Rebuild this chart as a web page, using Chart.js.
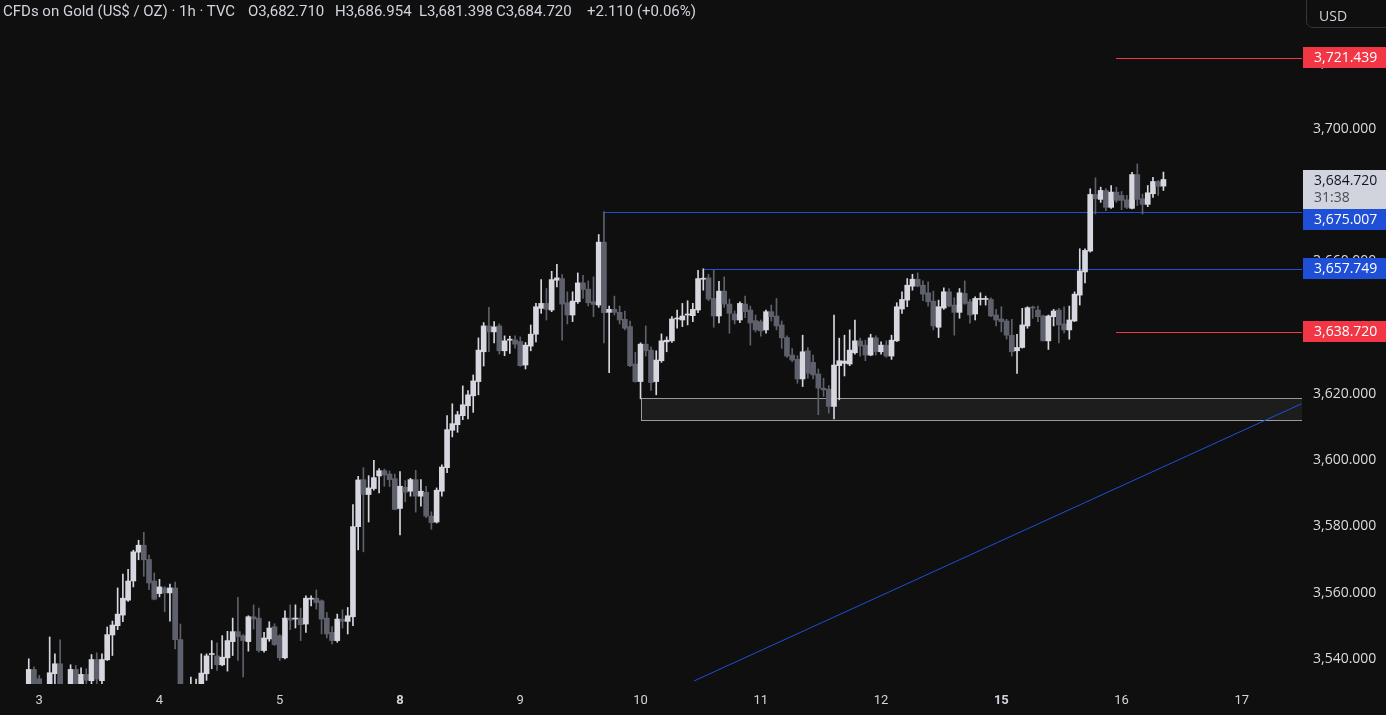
<!doctype html>
<html lang="en">
<head>
  <meta charset="utf-8">
  <title>CFDs on Gold (US$ / OZ) 1h</title>
  <style>
    html, body { margin: 0; padding: 0; background: #0f0f0f; overflow: hidden; }
    #wrap { position: relative; width: 1386px; height: 715px; }
    #chart { position: absolute; left: 0; top: 0; }
    .hdr { position: absolute; top: 2px; font: 15px Roboto, sans-serif; color: #d1d4dc; white-space: pre; }
    #usd { position: absolute; left: 1306px; top: -8px; width: 90px; height: 36px; box-sizing: border-box;
           border: 1px solid #34363d; border-radius: 7px; }
    #usd span { position: absolute; left: 12px; top: 13px; font: 14px "Open Sans", sans-serif; color: #d1d4dc; }
  </style>
</head>
<body>
<div id="wrap">
  <canvas id="chart" width="1386" height="715"></canvas>
  <div class="hdr" id="title" style="left:3px"></div>
  <div class="hdr" id="hO" style="left:248px"></div>
  <div class="hdr" id="hH" style="left:335px"></div>
  <div class="hdr" id="hL" style="left:419px"></div>
  <div class="hdr" id="hC" style="left:496px"></div>
  <div class="hdr" id="hChg" style="left:587px"></div>
  <div id="usd"><span>USD</span></div>
</div>

<script src="https://cdn.jsdelivr.net/npm/chart.js@4.4.1/dist/chart.umd.min.js"></script>
<script>
  // hourly candles, [open, high, low, close]; null = bar below the visible range
  const sep02 = [null, null, null, null, null,
    [3530, 3540.0, 3529, 3536.8], [3536.8, 3537.6, 3529, 3531]];
  const sep03 = [
    [3534.0, 3535.0, 3531, 3532.5], null, [3531, 3546.6, 3530, 3535.8], [3535.5, 3541.5, 3531, 3538.5],
    [3538.5, 3545.7, 3530, 3531], null, [3531, 3538.2, 3530, 3536.8], [3536.8, 3538.0, 3530, 3531],
    [3531, 3537.3, 3530, 3535.3], [3535.3, 3537.0, 3531, 3533.5], [3533.4, 3541.3, 3531, 3539.8],
    [3539.8, 3541.8, 3532, 3533.9], [3533.4, 3541.5, 3531, 3539.8], [3539.7, 3549.6, 3539.5, 3547.3],
    [3547.2, 3551.4, 3541.0, 3550.2], [3550.0, 3561.4, 3548.8, 3553.5], [3553.2, 3565.6, 3551.2, 3558.3],
    [3557.7, 3567.0, 3557.3, 3563.5], [3563.5, 3572.8, 3561.7, 3572.3], [3572.2, 3575.8, 3569.9, 3574.3],
    [3574.3, 3578.2, 3564.9, 3569.9], [3570.0, 3571.3, 3560.9, 3562.9], [3563.5, 3565.9, 3557.8, 3558.0]];
  const sep04 = [
    [3559.7, 3564.0, 3558.7, 3561.7], [3561.4, 3561.8, 3554.2, 3559.9], [3559.9, 3562.6, 3551.4, 3561.4],
    [3561.4, 3563.2, 3543.0, 3545.8], [3545.8, 3550.5, 3530, 3531], null, [3531, 3534.5, 3530, 3532],
    [3531, 3533.9, 3530, 3532], [3531, 3541.5, 3530, 3535.7], [3535.5, 3541.5, 3533.5, 3540.9],
    [3541.3, 3545.5, 3537.0, 3541.3], [3540.9, 3544.8, 3536.5, 3538.2], [3538.2, 3547.0, 3537.9, 3540.5],
    [3540.3, 3548.3, 3536.3, 3545.5], [3545.2, 3552.3, 3541.0, 3548.2], [3548.2, 3558.6, 3539.5, 3546.7],
    [3547.0, 3547.3, 3534.5, 3545.5], [3545.2, 3553.0, 3542.3, 3552.7], [3552.7, 3556.3, 3549.0, 3552.0],
    [3552.3, 3555.3, 3542.0, 3542.5], [3542.5, 3548.0, 3542.0, 3546.3], [3546.0, 3551.2, 3545.3, 3549.3],
    [3549.7, 3550.6, 3544.0, 3544.3]];
  const sep05 = [
    [3547.0, 3547.3, 3539.5, 3540.3], [3540.3, 3554.5, 3540.0, 3552.3], [3552.3, 3556.3, 3548.8, 3551.7],
    [3552.0, 3556.3, 3549.3, 3552.0], [3552.3, 3555.3, 3545.5, 3550.3], [3550.5, 3559.0, 3548.0, 3558.3],
    [3558.0, 3559.0, 3556.0, 3558.3], [3558.3, 3560.8, 3555.0, 3557.0], [3557.5, 3557.8, 3547.5, 3552.0],
    [3552.3, 3554.0, 3546.3, 3547.5], [3548.0, 3549.7, 3544.5, 3545.5], [3545.5, 3553.5, 3545.0, 3552.0],
    [3552.0, 3554.8, 3549.3, 3551.3], [3551.3, 3555.5, 3547.5, 3553.0], [3552.7, 3586.6, 3550.0, 3579.9],
    [3579.9, 3595.1, 3572.9, 3594.0], [3594.1, 3597.7, 3572.3, 3589.6], [3589.6, 3595.3, 3581.3, 3591.6],
    [3591.4, 3599.9, 3590.9, 3594.7], [3595.2, 3597.4, 3590.1, 3596.8], [3596.8, 3597.3, 3592.1, 3595.5],
    [3595.8, 3596.7, 3592.0, 3594.1], [3594.4, 3595.8, 3585.0, 3585.1]];
  const sep08 = [
    [3585.4, 3596.5, 3577.4, 3592.1], [3591.8, 3593.8, 3587.4, 3590.3], [3590.6, 3594.5, 3589.1, 3594.1],
    [3594.1, 3596.9, 3584.3, 3589.1], [3589.1, 3594.1, 3586.1, 3590.6], [3590.3, 3592.1, 3582.6, 3583.1],
    [3583.1, 3584.4, 3579.1, 3581.1], [3581.3, 3591.6, 3581.0, 3590.9], [3590.6, 3598.6, 3589.1, 3597.9],
    [3597.7, 3613.4, 3596.2, 3609.2], [3609.0, 3617.0, 3607.0, 3611.0], [3610.7, 3614.7, 3608.4, 3613.7],
    [3613.4, 3622.4, 3612.2, 3616.7], [3616.4, 3621.0, 3612.4, 3619.7], [3619.4, 3625.7, 3614.4, 3623.9],
    [3623.7, 3636.9, 3619.7, 3633.2], [3632.7, 3641.5, 3628.4, 3640.5], [3640.5, 3646.1, 3632.7, 3638.7],
    [3638.7, 3641.8, 3635.4, 3640.2], [3640.5, 3641.1, 3632.0, 3633.0], [3633.0, 3637.5, 3631.5, 3636.0],
    [3636.2, 3637.4, 3632.2, 3636.2], [3636.3, 3637.5, 3633.8, 3635.0]];
  const sep09 = [
    [3635.8, 3637.2, 3628.3, 3628.5], [3628.7, 3635.5, 3627.5, 3634.7], [3634.4, 3640.8, 3633.0, 3638.0],
    [3638.0, 3647.3, 3635.7, 3646.3], [3645.8, 3654.5, 3644.3, 3647.3], [3647.3, 3651.8, 3642.3, 3645.5],
    [3645.3, 3657.0, 3644.8, 3654.5], [3654.3, 3659.1, 3652.3, 3655.0], [3654.8, 3656.0, 3636.2, 3647.1],
    [3647.5, 3650.8, 3641.1, 3643.8], [3643.8, 3650.8, 3641.8, 3648.0], [3647.8, 3656.5, 3647.3, 3653.5],
    [3653.5, 3655.8, 3648.8, 3651.5], [3651.6, 3654.1, 3646.5, 3647.5], [3647.8, 3655.3, 3643.3, 3647.0],
    [3646.8, 3668.1, 3646.1, 3665.8], [3665.8, 3675.007, 3635.4, 3644.5], [3644.6, 3646.5, 3626.4, 3645.5],
    [3645.5, 3649.5, 3643.8, 3644.6], [3644.6, 3646.5, 3641.1, 3642.3], [3642.5, 3645.0, 3639.3, 3639.8],
    [3640.3, 3642.0, 3628.2, 3628.5], [3629.0, 3632.5, 3623.5, 3623.7]];
  const sep10 = [
    [3623.7, 3635.4, 3618.5, 3635.0], [3635.0, 3640.5, 3631.4, 3633.0], [3633.2, 3634.2, 3621.0, 3623.4],
    [3623.7, 3633.0, 3619.7, 3630.2], [3630.0, 3638.1, 3629.5, 3636.0], [3635.7, 3637.2, 3632.7, 3636.2],
    [3636.0, 3643.3, 3635.5, 3642.6], [3642.6, 3645.3, 3639.8, 3642.6], [3642.3, 3647.3, 3640.3, 3643.5],
    [3643.8, 3648.1, 3640.8, 3643.8], [3643.6, 3647.3, 3641.8, 3645.5], [3645.3, 3657.3, 3644.5, 3654.8],
    [3654.6, 3657.749, 3651.3, 3654.8], [3655.0, 3656.1, 3648.1, 3648.6], [3648.8, 3657.3, 3640.1, 3643.5],
    [3643.5, 3654.0, 3641.4, 3651.0], [3651.0, 3655.3, 3646.1, 3647.1], [3647.1, 3648.6, 3638.3, 3644.3],
    [3644.1, 3645.0, 3641.1, 3642.3], [3642.3, 3647.8, 3641.5, 3647.3], [3647.1, 3649.5, 3643.0, 3644.8],
    [3645.3, 3646.5, 3634.7, 3641.4], [3642.1, 3643.8, 3638.7, 3639.3]];
  const sep11 = [
    [3641.8, 3642.3, 3637.4, 3639.0], [3639.3, 3645.3, 3638.3, 3644.8], [3644.8, 3646.8, 3642.0, 3643.3],
    [3643.5, 3648.8, 3639.3, 3640.5], [3640.8, 3642.0, 3633.7, 3636.9], [3637.0, 3637.5, 3631.0, 3631.4],
    [3631.7, 3633.7, 3629.7, 3630.2], [3630.4, 3631.5, 3623.2, 3624.5], [3624.5, 3637.7, 3622.2, 3632.7],
    [3633.0, 3634.0, 3624.7, 3626.2], [3629.5, 3631.7, 3624.5, 3625.7], [3626.0, 3627.5, 3613.7, 3621.7],
    [3621.7, 3624.7, 3619.2, 3621.2], [3621.4, 3622.5, 3614.2, 3616.2], [3616.2, 3643.8, 3612.4, 3628.7],
    [3628.5, 3636.8, 3618.2, 3630.0], [3629.2, 3637.7, 3625.4, 3629.9], [3629.0, 3639.3, 3628.5, 3633.2],
    [3632.4, 3642.3, 3632.0, 3636.0], [3636.0, 3636.8, 3631.4, 3634.4], [3634.7, 3636.2, 3630.0, 3631.7],
    [3631.7, 3638.0, 3631.5, 3636.9], [3636.9, 3637.5, 3631.7, 3632.7]];
  const sep12 = [
    [3632.7, 3635.7, 3632.0, 3634.7], [3634.7, 3636.0, 3631.0, 3631.4], [3631.4, 3637.7, 3630.4, 3636.2],
    [3636.0, 3647.5, 3635.8, 3646.3], [3645.6, 3650.8, 3644.3, 3648.5], [3648.3, 3654.8, 3646.3, 3652.8],
    [3652.5, 3656.1, 3651.3, 3654.6], [3654.6, 3656.5, 3652.3, 3652.5], [3652.8, 3654.1, 3648.1, 3650.1],
    [3650.5, 3653.8, 3646.5, 3647.8], [3648.0, 3651.0, 3639.3, 3640.5], [3640.1, 3648.3, 3637.0, 3646.3],
    [3645.9, 3652.0, 3645.5, 3650.8], [3650.8, 3651.8, 3646.3, 3646.5], [3646.8, 3649.0, 3637.7, 3644.6],
    [3644.6, 3651.8, 3642.8, 3650.5], [3650.3, 3654.1, 3647.0, 3647.3], [3647.8, 3648.5, 3641.3, 3643.8],
    [3644.1, 3649.3, 3642.3, 3648.8], [3648.5, 3650.5, 3646.8, 3648.5], [3648.5, 3649.5, 3646.8, 3648.5],
    [3648.5, 3649.0, 3643.3, 3643.5], [3643.8, 3645.5, 3640.5, 3642.3]];
  const sep15 = [
    [3642.6, 3646.3, 3638.7, 3641.8], [3642.0, 3642.5, 3636.5, 3637.7], [3637.7, 3642.5, 3631.4, 3632.7],
    [3633.0, 3638.0, 3626.2, 3634.0], [3634.0, 3645.8, 3633.8, 3640.8], [3640.5, 3646.3, 3639.8, 3646.0],
    [3646.2, 3646.5, 3642.8, 3645.9], [3645.3, 3646.5, 3641.8, 3643.3], [3643.5, 3643.8, 3636.0, 3636.0],
    [3636.0, 3643.8, 3633.4, 3643.5], [3643.3, 3645.5, 3640.5, 3645.0], [3645.3, 3645.8, 3635.4, 3640.8],
    [3641.1, 3646.3, 3638.4, 3639.3], [3639.3, 3646.5, 3636.5, 3642.3], [3642.0, 3650.8, 3641.8, 3650.1],
    [3649.8, 3663.8, 3646.8, 3657.1], [3656.8, 3663.8, 3653.5, 3663.3], [3663.1, 3681.9, 3662.8, 3680.2],
    [3680.2, 3685.2, 3674.3, 3678.9], [3678.7, 3682.4, 3677.8, 3681.4], [3681.4, 3682.0, 3675.3, 3676.3],
    [3676.3, 3682.9, 3676.0, 3680.9], [3680.9, 3682.4, 3677.8, 3678.4]];
  const sep16 = [
    [3679.9, 3681.1, 3675.6, 3678.4], [3678.6, 3679.9, 3675.9, 3676.3], [3676.0, 3686.9, 3675.8, 3686.2],
    [3686.2, 3689.4, 3676.8, 3678.7], [3678.9, 3680.3, 3674.3, 3677.2], [3677.2, 3682.9, 3676.5, 3680.7],
    [3680.4, 3685.4, 3679.3, 3684.1], [3684.1, 3684.4, 3679.9, 3682.61], [3682.71, 3686.954, 3681.398, 3684.72]];

  const dayLabels = ['3', '4', '5', '8', '9', '10', '11', '12', '15', '16', '17'];
  const weekStarts = ['8', '15'];
  const barsPerDay = 23;
  const leadSlots = 7;      // bars shown before the first day label
  const slotCount = 249;    // visible bar slots incl. empty space on the right
  const yTicks = [3540, 3560, 3580, 3600, 3620, 3640, 3660, 3680, 3700, 3720];
  const yMin = 3532.4, yMax = 3738.9;

  // drawings: horizontal rays (price, starting bar), support zone, trend line
  const redLevels = [3721.439, 3638.72];
  const redFrom = 206;
  const blueLevels = [3675.007, 3657.749];
  const blueFrom = [108, 127];
  const zone = [3612.1, 3618.7];
  const zoneFrom = 115;
  const trendA = [125.2, 3533.3];
  const trendB = [241.4, 3617.0];
  const countdown = '31:38';

  const up = '#d6d7df', down = '#5e606b';
  const red = '#f23645', blue = '#1f4fd6';
  const font = 'Roboto, sans-serif';
  const axisFont = '"Open Sans", sans-serif';

  const candles = [].concat(sep02, sep03, sep04, sep05, sep08, sep09, sep10, sep11, sep12, sep15, sep16);
  const labels = [];
  for (let k = 0; k < slotCount; k++) {
    const i = k - leadSlots;
    labels.push(i >= 0 && i % barsPerDay === 0 ? (dayLabels[i / barsPerDay] || '') : '');
  }
  const colorOf = c => (c && c[3] >= c[0] ? up : down);

  const last = sep16[sep16.length - 1];
  const prevClose = sep16[sep16.length - 2][3];
  const fmt = v => v.toLocaleString('en-US', { minimumFractionDigits: 3, maximumFractionDigits: 3 });
  const chg = last[3] - prevClose;
  document.getElementById('title').textContent = 'CFDs on Gold (US$ / OZ) · 1h · TVC';
  document.getElementById('hO').textContent = 'O' + fmt(last[0]);
  document.getElementById('hH').textContent = 'H' + fmt(last[1]);
  document.getElementById('hL').textContent = 'L' + fmt(last[2]);
  document.getElementById('hC').textContent = 'C' + fmt(last[3]);
  document.getElementById('hChg').textContent =
    (chg >= 0 ? '+' : '') + chg.toFixed(3) + ' (' + (chg >= 0 ? '+' : '') + (chg / prevClose * 100).toFixed(2) + '%)';

  const drawings = {
    id: 'drawings',
    beforeDatasetsDraw(chart) {
      const { ctx, chartArea: a, scales: { x, y } } = chart;
      const px = i => x.getPixelForValue(i + leadSlots);
      const py = v => Math.round(y.getPixelForValue(v));
      ctx.save();
      ctx.beginPath();
      ctx.rect(a.left, a.top, a.right - a.left, a.bottom - a.top);
      ctx.clip();
      // zone
      const zt = py(zone[1]), zb = py(zone[0]), zl = Math.round(px(zoneFrom));
      ctx.fillStyle = 'rgba(255,255,255,0.06)';
      ctx.fillRect(zl, zt, a.right - zl, zb - zt);
      ctx.fillStyle = '#9a9a9a';
      ctx.fillRect(zl, zt, a.right - zl, 1);
      ctx.fillRect(zl, zb, a.right - zl, 1);
      ctx.fillRect(zl, zt, 1, zb - zt);
      // rays
      const ray = (p, from, col) => {
        const x0 = Math.round(px(from));
        ctx.fillStyle = col;
        ctx.fillRect(x0, py(p), a.right - x0, 1);
      };
      redLevels.forEach(p => ray(p, redFrom, red));
      blueLevels.forEach((p, j) => ray(p, blueFrom[j], blue));
      // trend line
      ctx.strokeStyle = blue;
      ctx.lineWidth = 1;
      ctx.beginPath();
      ctx.moveTo(px(trendA[0]), y.getPixelForValue(trendA[1]));
      ctx.lineTo(px(trendB[0]), y.getPixelForValue(trendB[1]));
      ctx.stroke();
      ctx.restore();
    },
    afterDraw(chart) {
      const { ctx, chartArea: a, scales: { y } } = chart;
      const tags = [
        { v: redLevels[0], bg: red, fg: '#ffffff' },
        { v: last[3], bg: '#d1d4dc', fg: '#131722', sub: countdown },
        { v: blueLevels[0], bg: blue, fg: '#ffffff' },
        { v: blueLevels[1], bg: blue, fg: '#ffffff' },
        { v: redLevels[1], bg: red, fg: '#ffffff' },
      ];
      let prevBottom = -Infinity;
      ctx.save();
      ctx.font = '14px ' + axisFont;
      ctx.textBaseline = 'middle';
      tags.forEach(t => {
        const yy = y.getPixelForValue(t.v);
        const h = t.sub ? 39 : 21;
        let top = t.sub ? yy - 9 : yy - 10.5;
        if (top < prevBottom) top = prevBottom;
        prevBottom = top + h;
        ctx.fillStyle = t.bg;
        ctx.fillRect(a.right + 1, Math.round(top), 90, h);
        ctx.fillStyle = t.fg;
        ctx.fillText(fmt(t.v), a.right + 12, Math.round(top) + 11);
        if (t.sub) {
          ctx.fillStyle = '#4a4d57';
          ctx.fillText(t.sub, a.right + 12, Math.round(top) + 28);
        }
      });
      ctx.restore();
    }
  };

  Chart.defaults.font.family = font;
  new Chart(document.getElementById('chart'), {
    type: 'bar',
    data: {
      labels: labels,
      datasets: [
        {
          label: 'body',
          data: candles.map(c => (c ? [c[0], c[3]] : null)),
          backgroundColor: candles.map(colorOf),
          barThickness: 5,
          minBarLength: 1,
          grouped: false,
          order: 1
        },
        {
          label: 'wick',
          data: candles.map(c => (c ? [c[2], c[1]] : null)),
          backgroundColor: candles.map(colorOf),
          barThickness: 1,
          grouped: false,
          order: 2
        }
      ]
    },
    options: {
      responsive: false,
      animation: false,
      layout: { padding: 0 },
      plugins: { legend: { display: false }, tooltip: { enabled: false } },
      scales: {
        x: {
          type: 'category',
          offset: true,
          grid: { display: false, drawTicks: false },
          border: { display: false },
          ticks: {
            autoSkip: false,
            maxRotation: 0,
            padding: 9,
            color: '#d1d4dc',
            font: c => ({ size: 13, weight: weekStarts.includes(c.tick && c.tick.label) ? 'bold' : 'normal' })
          },
          afterFit: s => { s.height = 31; s.paddingLeft = 0; s.paddingRight = 0; }
        },
        y: {
          position: 'right',
          min: yMin,
          max: yMax,
          grid: { display: false, drawTicks: false },
          border: { display: false },
          ticks: { padding: 11, color: '#dcdcdc', font: { size: 14, family: axisFont }, callback: v => fmt(v) },
          afterBuildTicks: s => { s.ticks = yTicks.map(v => ({ value: v })); },
          afterFit: s => { s.width = 84; s.paddingTop = 0; s.paddingBottom = 0; }
        }
      }
    },
    plugins: [drawings]
  });
</script>
</body>
</html>
